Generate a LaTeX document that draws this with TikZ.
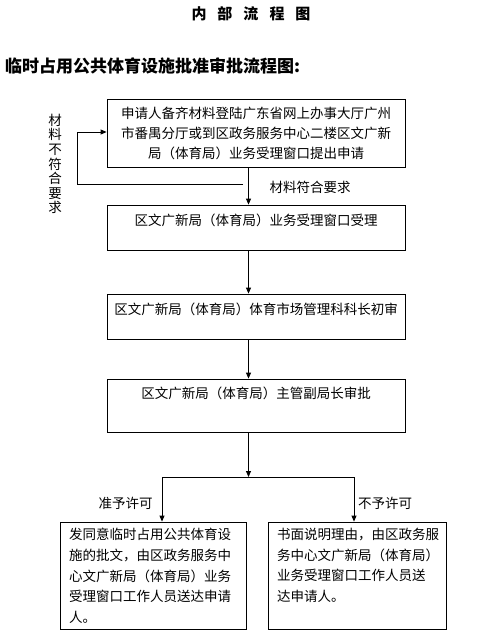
\documentclass[tikz,border=0pt]{standalone}
\usepackage{fontspec}
\setmainfont{Noto Sans CJK SC}
\usetikzlibrary{arrows.meta}
\begin{document}
\begin{tikzpicture}[x=1pt,y=-1pt,
  box/.style={draw,line width=0.8pt,inner sep=0pt},
  txt/.style={inner sep=0pt,font=\fontsize{13.5}{20}\selectfont},
  arr/.style={line width=0.8pt,-{Triangle[length=6pt,width=5pt]}},
  ln/.style={line width=0.8pt}]
\useasboundingbox (0,0) rectangle (479,635);
% titles
\node[inner sep=0pt,font=\fontsize{15}{15}\selectfont\bfseries] (title) at (251,13.5) {内\hspace{11pt}部\hspace{11pt}流\hspace{11pt}程\hspace{11pt}图};
\node[inner sep=0pt,anchor=west,font=\fontsize{17}{17}\selectfont\bfseries] (sub) at (5,66) {临时占用公共体育设施批准审批流程图:};
% boxes
\node[box,minimum width=298pt,minimum height=68pt] (b1) at (256,133) {};
\node[txt,align=center] (t1) at (256,133) {申请人备齐材料登陆广东省网上办事大厅广州\\市番禺分厅或到区政务服务中心二楼区文广新\\局（体育局）业务受理窗口提出申请};
\node[box,minimum width=298pt,minimum height=45pt] (b2) at (256,227.5) {};
\node[txt] (t2) at (256,220) {区文广新局（体育局）业务受理窗口受理};
\node[box,minimum width=298pt,minimum height=45pt] (b3) at (256,316.5) {};
\node[txt] (t3) at (256,309) {区文广新局（体育局）体育市场管理科科长初审};
\node[box,minimum width=298pt,minimum height=53pt] (b4) at (256,405.5) {};
\node[txt] (t4) at (256,393) {区文广新局（体育局）主管副局长审批};
\node[box,minimum width=186pt,minimum height=107pt] (b5) at (153,575.5) {};
\node[txt,align=left,anchor=north west,font=\fontsize{13.5}{20.7}\selectfont] (t5) at (69,528) {发同意临时占用公共体育设\\施的批文，由区政务服务中\\心文广新局（体育局）业务\\受理窗口工作人员送达申请\\人。};
\node[box,minimum width=178pt,minimum height=107pt] (b6) at (357,575.5) {};
\node[txt,align=left,anchor=north west,font=\fontsize{13.5}{20.7}\selectfont] (t6) at (277,528) {书面说明理由，由区政务服\\务中心文广新局（体育局）\\业务受理窗口工作人员送\\达申请人。};
% labels
\node[txt,align=center,font=\fontsize{13.5}{14.6}\selectfont] (lno) at (55,164) {材\\料\\不\\符\\合\\要\\求};
\node[txt] (lok) at (310,187) {材料符合要求};
\node[txt] (lyes) at (125.5,503) {准予许可};
\node[txt] (lnot) at (385,503) {不予许可};
% coordinates
\coordinate (spine) at (248.5,0);
\coordinate (fbs) at (243,184);
\coordinate (fbc) at (77,132);
\coordinate (split) at (248.5,477);
\coordinate (lb) at (162,0);
\coordinate (rb) at (354,0);
% connectors
\draw[arr] (b1.south -| spine) -- (b2.north -| spine);
\draw[arr] (fbs) -| (fbc) -- (b1.west |- fbc);
\draw[arr] (b2.south -| spine) -- (b3.north -| spine);
\draw[arr] (b3.south -| spine) -- (b4.north -| spine);
\draw[arr] (b4.south -| spine) -- (split);
\draw[arr] (split) -| (b5.north -| lb);
\draw[arr] (split) -| (b6.north -| rb);
\end{tikzpicture}
\end{document}
